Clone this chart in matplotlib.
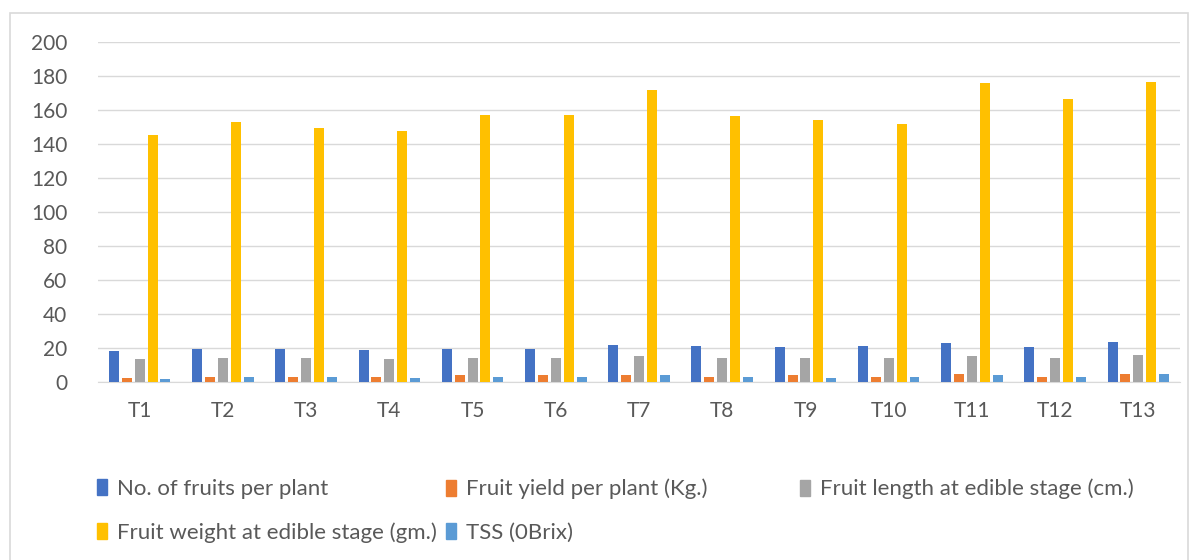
import matplotlib.pyplot as plt
import numpy as np
from matplotlib.patches import Rectangle, Patch

treatments = ["T1", "T2", "T3", "T4", "T5", "T6", "T7", "T8", "T9", "T10", "T11", "T12", "T13"]
no_fruits = [18.2, 19.6, 19.6, 19.0, 19.6, 19.6, 22.0, 21.2, 20.4, 21.2, 22.7, 20.4, 23.5]
fruit_yield = [2.4, 3.1, 3.1, 3.1, 3.9, 3.9, 3.9, 3.1, 3.9, 3.1, 4.7, 3.1, 4.7]
fruit_length = [13.7, 14.3, 14.3, 13.7, 14.3, 14.3, 15.3, 14.3, 14.3, 14.3, 15.3, 14.3, 16.1]
fruit_weight = [145.4, 153.2, 149.4, 147.8, 157.0, 157.0, 172.0, 156.6, 154.4, 152.0, 176.0, 166.6, 176.6]
tss = [1.6, 3.1, 3.1, 2.4, 3.1, 3.1, 3.9, 3.1, 2.4, 3.1, 3.9, 3.1, 4.7]

series = [
    ("No. of fruits per plant", no_fruits, "#4472C4"),
    ("Fruit yield per plant (Kg.)", fruit_yield, "#ED7D31"),
    ("Fruit length at edible stage (cm.)", fruit_length, "#A5A5A5"),
    ("Fruit weight at edible stage (gm.)", fruit_weight, "#FFC000"),
    ("TSS (0Brix)", tss, "#5B9BD5"),
]

plt.rcParams['font.family'] = ['Lato', 'DejaVu Sans']
text_color = "#595959"

fig = plt.figure(figsize=(11.98, 5.60), dpi=100)
ax = fig.add_axes([98 / 1198, 1 - 382 / 560, (1180 - 98) / 1198, 340 / 560])

x = np.arange(len(treatments))
step = 0.155
width = 0.12
for i, (name, vals, color) in enumerate(series):
    ax.bar(x + (i - 2) * step, vals, width, color=color, label=name, zorder=3)

ax.set_xlim(-0.5, len(treatments) - 0.5)
ax.set_ylim(0, 200)
ax.set_yticks(range(0, 201, 20))
ax.set_xticks(x)
ax.set_xticklabels(treatments)
ax.grid(axis='y', color="#D9D9D9", linewidth=1, zorder=0)
for s in ["top", "right", "left"]:
    ax.spines[s].set_visible(False)
ax.spines["bottom"].set_color("#D9D9D9")
ax.tick_params(length=0, labelsize=15, colors=text_color)
ax.tick_params(axis='x', pad=14)
ax.tick_params(axis='y', pad=22)

# outer chart border
fig.patches.append(Rectangle((10 / 1198, -0.01), 1178 / 1198, 1 - 13 / 560 + 0.01,
                             transform=fig.transFigure, fill=False,
                             edgecolor="#D9D9D9", linewidth=1.2))

# legend columns (Excel-style fixed column positions)
handles = [Patch(color=c, label=n) for n, _, c in series]
columns = [([0, 3], 88), ([1, 4], 437), ([2], 791)]
for idx, xpos in columns:
    leg = fig.legend([handles[k] for k in idx], [series[k][0] for k in idx],
                     ncol=1, loc="upper left", bbox_to_anchor=(xpos / 1198, 1 - 470 / 560),
                     frameon=False, fontsize=16, labelcolor=text_color,
                     handlelength=0.45, handleheight=0.75, handletextpad=0.45,
                     labelspacing=1.05, borderaxespad=0)

fig.savefig("out.png", dpi=100)
